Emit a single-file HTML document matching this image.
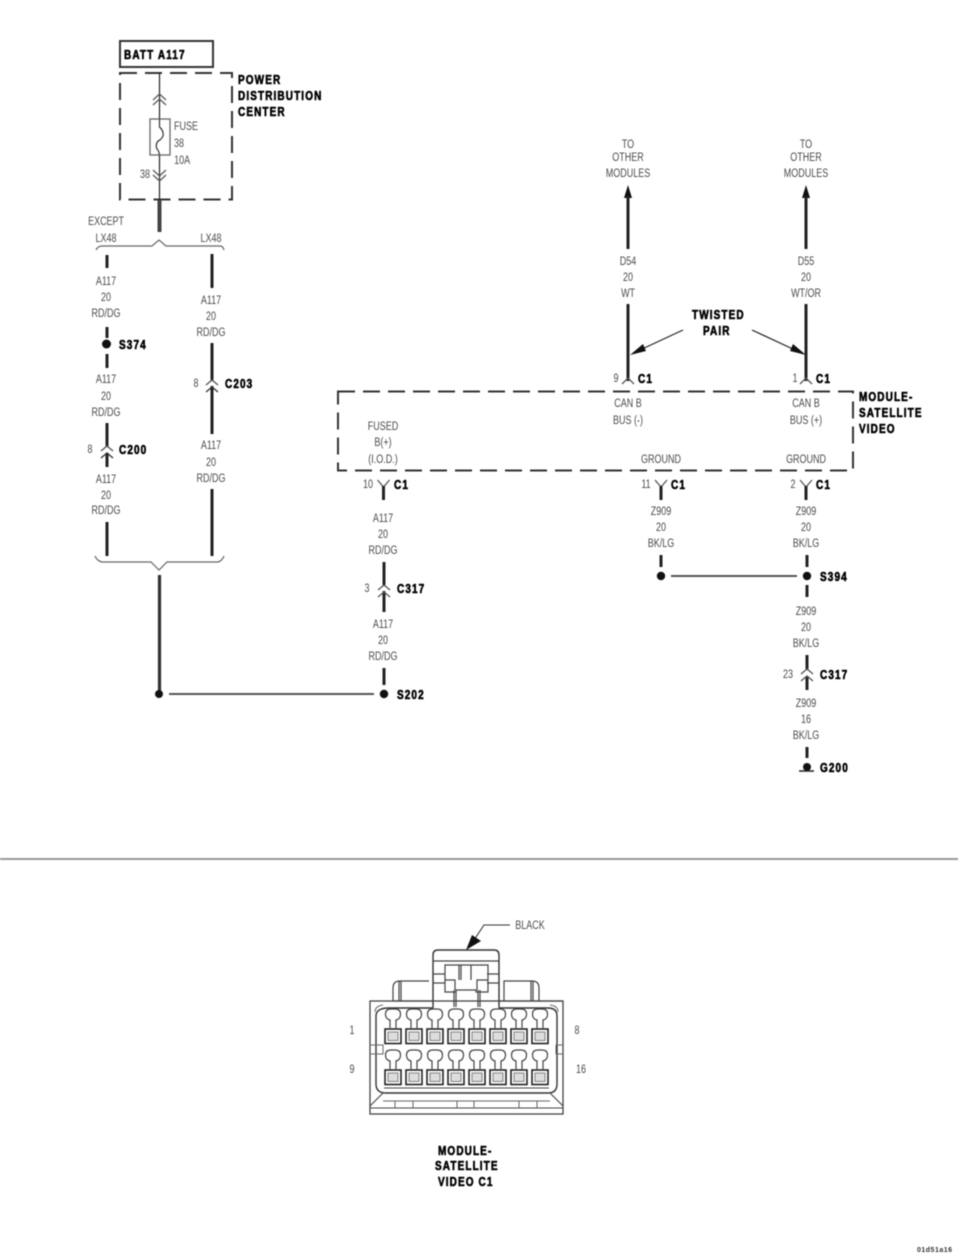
<!DOCTYPE html>
<html><head><meta charset="utf-8">
<style>
html,body{margin:0;padding:0;background:#fff;width:960px;height:1257px;overflow:hidden}
svg{display:block;filter:blur(.5px)}
text{font-family:"Liberation Sans",sans-serif}
.t{font-size:12px;fill:#4a4a4a;text-anchor:middle;transform-box:fill-box;transform-origin:center;transform:scaleX(.75)}
.b{font-size:12.5px;font-weight:bold;fill:#000;stroke:#000;stroke-width:.6;letter-spacing:1.4px;transform-box:fill-box;transform-origin:left center;transform:scaleX(.8)}
.w{stroke:#222;stroke-width:3;fill:none}
.f{stroke:#222;fill:none;stroke-width:1.2}
.d{stroke:#333;stroke-width:2;fill:none;stroke-dasharray:17 8}
.c{stroke:#666;stroke-width:1;fill:none}
.k{stroke:#444;stroke-width:1.2;fill:none}
</style></head><body>
<svg width="960" height="1257" viewBox="0 0 960 1257" xmlns="http://www.w3.org/2000/svg">
<defs>
<g id="y"><path d="M-6 -5 L0 2 L6 -5" fill="none" stroke="#555" stroke-width="1.3"/></g>
<g id="term">
<path class="k" d="M-3 1028V1020Q-7.500 1019 -7.500 1014Q-7.500 1009 -2 1009H2Q7.500 1009 7.500 1014Q7.500 1019 3 1020V1028"/>
<rect x="-8" y="1029" width="16" height="14.5" fill="#fff" stroke="#222" stroke-width="1.6"/>
<rect x="-5" y="1032" width="10" height="8.5" fill="#ddd" stroke="#666" stroke-width=".8"/>
</g>
</defs>

<!-- BATT and PDC -->
<rect x="120" y="41" width="93" height="26" fill="none" stroke="#333" stroke-width="2"/>
<text class="b" x="124" y="59">BATT A117</text>
<rect class="d" x="120" y="73" width="112" height="126.5"/>
<text class="b" x="238" y="84">POWER</text>
<text class="b" x="238" y="100">DISTRIBUTION</text>
<text class="b" x="238" y="116">CENTER</text>
<path class="f" d="M159.5 73V119M159.5 155V200"/>
<path d="M153 100L159.5 94L166 100M153 105L159.5 99L166 105" fill="none" stroke="#555" stroke-width="1.2"/>
<path d="M153 170L159.5 176L166 170M153 175L159.5 181L166 175" fill="none" stroke="#555" stroke-width="1.2"/>
<rect x="150" y="119" width="20" height="36" fill="none" stroke="#666" stroke-width="1.3"/>
<path d="M159.5 119V127Q164 131 163 136Q161 140 158 141Q155 145 157 149Q159 151 159.5 155" fill="none" stroke="#333" stroke-width="1.2"/>
<text class="t" x="186" y="130">FUSE</text>
<text class="t" x="179" y="147">38</text>
<text class="t" x="182" y="164">10A</text>
<text class="t" x="145" y="178">38</text>
<path d="M159.5 200V232" stroke="#444" stroke-width="4" fill="none"/>
<text class="t" x="106" y="225">EXCEPT</text>
<text class="t" x="106" y="242">LX48</text>
<text class="t" x="211" y="242">LX48</text>
<path d="M96 250Q98 246 102 246H152L159 240L166 246H220Q223 246 224 250" fill="none" stroke="#666" stroke-width="1.2"/>

<!-- Left branch -->
<path class="w" d="M107 255V268M107 354V368M107 423V447M107 453V467M107 522V556"/>
<text class="t" x="106" y="285">A117</text>
<text class="t" x="106" y="301">20</text>
<text class="t" x="106" y="317">RD/DG</text>
<path class="w" d="M107 327V338"/>
<circle cx="106.500" cy="344" r="4.500" fill="#111"/>
<text class="b" x="119" y="349">S374</text>
<text class="t" x="106" y="383">A117</text>
<text class="t" x="106" y="400">20</text>
<text class="t" x="106" y="416">RD/DG</text>
<path d="M101 451L107 446L113 451" fill="none" stroke="#555" stroke-width="1.3"/>
<path d="M101 458L107 453L113 458" fill="none" stroke="#333" stroke-width="1.3"/>
<text class="t" x="90" y="453">8</text>
<text class="b" x="119" y="454">C200</text>
<text class="t" x="106" y="483">A117</text>
<text class="t" x="106" y="499">20</text>
<text class="t" x="106" y="514">RD/DG</text>

<!-- Right branch -->
<path class="w" d="M212 254V288M212 343V381M212 386V434M212 489V556"/>
<text class="t" x="211" y="304">A117</text>
<text class="t" x="211" y="320">20</text>
<text class="t" x="211" y="336">RD/DG</text>
<path d="M206 385L212 380L218 385" fill="none" stroke="#555" stroke-width="1.3"/>
<path d="M206 392L212 387L218 392" fill="none" stroke="#333" stroke-width="1.3"/>
<text class="t" x="196" y="387">8</text>
<text class="b" x="225" y="388">C203</text>
<text class="t" x="211" y="449">A117</text>
<text class="t" x="211" y="466">20</text>
<text class="t" x="211" y="482">RD/DG</text>
<path d="M95 556Q97 561 102 562H151L159 570L167 562H218Q222 561 224 556" fill="none" stroke="#666" stroke-width="1.2"/>
<path d="M159.500 575V694" stroke="#333" stroke-width="3.200" fill="none"/>
<circle cx="159" cy="694" r="4" fill="#111"/>
<path d="M169 694H374" stroke="#555" stroke-width="2" fill="none"/>
<circle cx="384" cy="694" r="4.200" fill="#111"/>
<text class="b" x="397" y="699">S202</text>

<!-- Module box -->
<rect class="d" x="338" y="391.500" width="515" height="79"/>
<text class="b" x="859" y="401">MODULE-</text>
<text class="b" x="859" y="417">SATELLITE</text>
<text class="b" x="859" y="433">VIDEO</text>
<text class="t" x="383" y="430">FUSED</text>
<text class="t" x="383" y="446">B(+)</text>
<text class="t" x="383" y="463">(I.O.D.)</text>
<text class="t" x="628" y="407">CAN B</text>
<text class="t" x="628" y="424">BUS (-)</text>
<text class="t" x="806" y="407">CAN B</text>
<text class="t" x="806" y="424">BUS (+)</text>
<text class="t" x="661" y="463">GROUND</text>
<text class="t" x="806" y="463">GROUND</text>

<!-- CAN lines -->
<text class="t" x="628" y="148">TO</text>
<text class="t" x="628" y="161">OTHER</text>
<text class="t" x="628" y="177">MODULES</text>
<text class="t" x="806" y="148">TO</text>
<text class="t" x="806" y="161">OTHER</text>
<text class="t" x="806" y="177">MODULES</text>
<path d="M628 185L624 198H632Z" fill="#111"/>
<path d="M806 185L802 198H810Z" fill="#111"/>
<path class="w" d="M628 196V249M806 196V249M628 304V381M806 304V381"/>
<text class="t" x="628" y="265">D54</text>
<text class="t" x="628" y="281">20</text>
<text class="t" x="628" y="297">WT</text>
<text class="t" x="806" y="265">D55</text>
<text class="t" x="806" y="281">20</text>
<text class="t" x="806" y="297">WT/OR</text>
<text class="b" x="692" y="319">TWISTED</text>
<text class="b" x="703" y="335">PAIR</text>
<path d="M683 330L640 350" stroke="#222" stroke-width="1.200" fill="none"/>
<path d="M630 355L643 344L646 351Z" fill="#111"/>
<path d="M752 330L795 350" stroke="#222" stroke-width="1.200" fill="none"/>
<path d="M806 355L793 344L790 351Z" fill="#111"/>
<path d="M622 384L628 378L634 384M800 384L806 378L812 384" fill="none" stroke="#555" stroke-width="1.300"/>
<text class="t" x="616" y="382">9</text>
<text class="b" x="638" y="383">C1</text>
<text class="t" x="795" y="382">1</text>
<text class="b" x="816" y="383">C1</text>

<!-- Connector Y marks -->
<use href="#y" x="383.500" y="485"/><use href="#y" x="661" y="485"/><use href="#y" x="806" y="485"/>
<path class="w" d="M383.500 486V500M661 486V500M806 486V500"/>
<text class="t" x="368" y="488">10</text><text class="b" x="394" y="489">C1</text>
<text class="t" x="646" y="488">11</text><text class="b" x="671" y="489">C1</text>
<text class="t" x="793" y="488">2</text><text class="b" x="816" y="489">C1</text>

<!-- C317 left -->
<text class="t" x="383" y="522">A117</text>
<text class="t" x="383" y="538">20</text>
<text class="t" x="383" y="554">RD/DG</text>
<path class="w" d="M384 562V585M384 591V612M384 668V685"/>
<path d="M378 590L384 585L390 590M378 597L384 592L390 597" fill="none" stroke="#555" stroke-width="1.300"/>
<text class="t" x="367" y="592">3</text>
<text class="b" x="397" y="593">C317</text>
<text class="t" x="383" y="628">A117</text>
<text class="t" x="383" y="644">20</text>
<text class="t" x="383" y="660">RD/DG</text>

<!-- Ground -->
<text class="t" x="661" y="515">Z909</text>
<text class="t" x="661" y="531">20</text>
<text class="t" x="661" y="547">BK/LG</text>
<text class="t" x="806" y="515">Z909</text>
<text class="t" x="806" y="531">20</text>
<text class="t" x="806" y="547">BK/LG</text>
<path class="w" d="M661 555V567M807 555V567M807 585V597M807 655V670M807 677V690M807 747V758"/>
<circle cx="661" cy="576" r="4.200" fill="#111"/>
<circle cx="807" cy="576" r="4.200" fill="#111"/>
<path d="M671 576H797" stroke="#555" stroke-width="2" fill="none"/>
<text class="b" x="820" y="581">S394</text>
<text class="t" x="806" y="615">Z909</text>
<text class="t" x="806" y="631">20</text>
<text class="t" x="806" y="647">BK/LG</text>
<path d="M801 674L807 669L813 674M801 681L807 676L813 681" fill="none" stroke="#555" stroke-width="1.300"/>
<text class="t" x="788" y="678">23</text>
<text class="b" x="820" y="679">C317</text>
<text class="t" x="806" y="707">Z909</text>
<text class="t" x="806" y="723">16</text>
<text class="t" x="806" y="739">BK/LG</text>
<circle cx="807" cy="767" r="4" fill="#111"/>
<path d="M799 771H814" stroke="#222" stroke-width="1.500"/>
<text class="b" x="820" y="772">G200</text>

<!-- Separator -->
<path d="M0 859H958" stroke="#999" stroke-width="2"/>

<!-- Connector view -->
<text class="t" x="530" y="929">BLACK</text>
<path d="M510 925H484L474 940" stroke="#333" stroke-width="1.100" fill="none"/>
<path d="M466 950L472 935L481 941Z" fill="#111"/>
<g fill="none" stroke="#444" stroke-width="1.200">
<path d="M393 1001V988Q393 981 400 981H429M393 1001H433"/>
<path d="M399 981V1001M401 981V1001"/>
<path d="M539 1001V988Q539 981 532 981H504V1001M533 981V1001M531 981V1001M499 1001H563"/>
<path d="M433 1008V955Q433 950 438 950H494Q499 950 499 955V1008" stroke="#333" stroke-width="1.400"/>
<path d="M433 961H499"/>
<path d="M433 974H445M487 974H499M433 983H445M487 983H499"/>
<path d="M445 965H488V992H476V990H456V992H445Z"/>
<path d="M459 965V980M461 965V980M471 965V980M445 980H455V990M488 980H477V990"/>
<path d="M454 990V1007M456 990V1007M478 990V1007M480 990V1007"/>
</g>
<rect x="370" y="1001" width="193" height="113" fill="none" stroke="#444" stroke-width="1.300"/>
<path d="M433 1008H389Q376 1008 376 1016V1084Q376 1093 386 1093H548Q557 1093 557 1084V1016Q557 1008 548 1008H499" fill="none" stroke="#333" stroke-width="1.400"/>
<path d="M383 1005Q375 1006 375 1012M550 1005Q558 1006 558 1012" fill="none" stroke="#666"/>
<path d="M370 1045H383V1054H370M563 1045H556V1054H563" fill="none" stroke="#666"/>
<path d="M384 1088H549M370 1108H563M370 1106L383 1093M563 1106L550 1093" fill="none" stroke="#444" stroke-width="1.100"/>
<path d="M395 1101V1108M413 1101V1108M457 1101V1108M474 1101V1108M519 1101V1108M537 1101V1108M383 1101H550" fill="none" stroke="#666" stroke-width="1"/>
<use href="#term" x="393"/><use href="#term" x="414"/><use href="#term" x="435"/><use href="#term" x="456"/><use href="#term" x="477"/><use href="#term" x="498"/><use href="#term" x="519"/><use href="#term" x="540"/>
<use href="#term" x="393" y="41"/><use href="#term" x="414" y="41"/><use href="#term" x="435" y="41"/><use href="#term" x="456" y="41"/><use href="#term" x="477" y="41"/><use href="#term" x="498" y="41"/><use href="#term" x="519" y="41"/><use href="#term" x="540" y="41"/>
<text class="t" x="352" y="1034">1</text>
<text class="t" x="352" y="1073">9</text>
<text class="t" x="577" y="1034">8</text>
<text class="t" x="581" y="1073">16</text>
<text class="b" x="438" y="1155">MODULE-</text>
<text class="b" x="435" y="1170">SATELLITE</text>
<text class="b" x="438" y="1186">VIDEO C1</text>
<text x="917" y="1252" style="font-size:7px;font-weight:bold;fill:#333;letter-spacing:.5px">01d51a16</text>
</svg>
</body></html>
